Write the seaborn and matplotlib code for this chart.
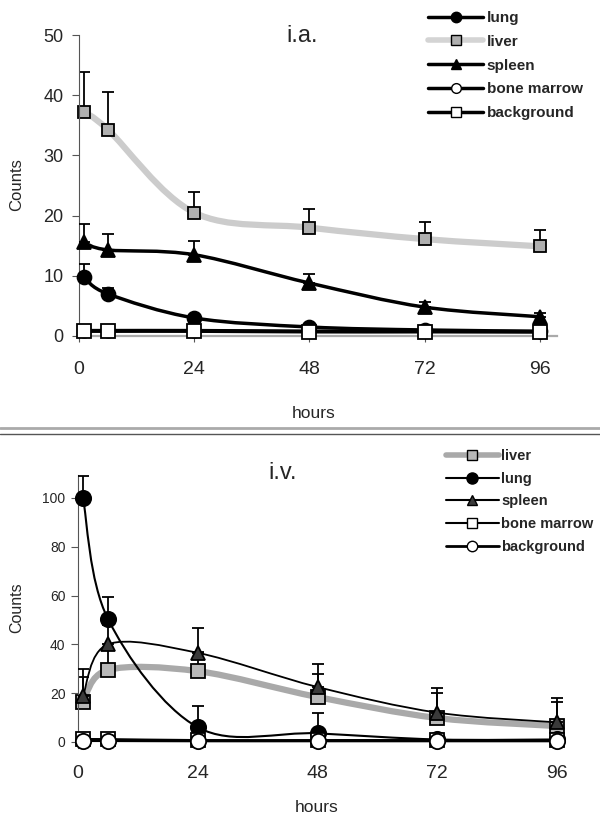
import numpy as np
import matplotlib.pyplot as plt
import seaborn as sns
from matplotlib.path import Path
from matplotlib.patches import PathPatch
from matplotlib.lines import Line2D

# time points (hours) and axis ticks
hours = [1, 6, 24, 48, 72, 96]
xticks = [0, 24, 48, 72, 96]

# i.a. panel: means and upper error (SD)
ia_lung = [9.8, 7.0, 3.0, 1.5, 1.0, 0.8]
ia_lung_sd = [2.1, 1.0, 0.3, 0.3, 0.2, 0.2]
ia_liver = [37.2, 34.3, 20.5, 18.0, 16.1, 14.9]
ia_liver_sd = [6.6, 6.2, 3.5, 3.1, 2.9, 2.7]
ia_spleen = [15.6, 14.3, 13.5, 8.8, 4.8, 3.2]
ia_spleen_sd = [3.0, 2.7, 2.3, 1.5, 0.9, 0.6]
ia_marrow = [0.9, 0.9, 0.9, 0.8, 0.8, 0.7]
ia_marrow_sd = [0.2, 0.2, 0.2, 0.2, 0.2, 0.2]
ia_backgr = [0.8, 0.8, 0.8, 0.7, 0.7, 0.7]
ia_backgr_sd = [0.2, 0.2, 0.2, 0.2, 0.2, 0.2]

# i.v. panel
iv_liver = [16.5, 29.5, 29.0, 18.4, 9.8, 6.5]
iv_liver_sd = [10.2, 8.0, 8.0, 9.6, 10.2, 9.9]
iv_lung = [100.0, 50.4, 6.0, 3.5, 1.0, 1.0]
iv_lung_sd = [9.0, 8.8, 8.9, 8.5, 0.5, 0.5]
iv_spleen = [19.0, 40.0, 36.5, 22.5, 12.0, 8.0]
iv_spleen_sd = [11.0, 8.0, 10.2, 9.5, 10.0, 10.0]
iv_marrow = [1.0, 1.0, 0.6, 0.6, 0.6, 0.6]
iv_marrow_sd = [0.3, 0.3, 0.3, 0.3, 0.3, 0.3]
iv_backgr = [0.5, 0.5, 0.4, 0.4, 0.4, 0.4]
iv_backgr_sd = [0.2, 0.2, 0.2, 0.2, 0.2, 0.2]

sns.set_style("white")
plt.rcParams["font.family"] = ["Liberation Sans", "DejaVu Sans"]


def smooth_path(x, y):
    # Excel-style smoothed line: cubic Bezier segments through the data points
    P = np.column_stack([x, y]).astype(float)
    E = np.vstack([P[0], P, P[-1]])
    verts = [P[0]]
    codes = [Path.MOVETO]
    for i in range(len(P) - 1):
        p0, p1, p2, p3 = E[i], E[i + 1], E[i + 2], E[i + 3]
        verts += [p1 + (p2 - p0) / 6, p2 - (p3 - p1) / 6, p2]
        codes += [Path.CURVE4] * 3
    return Path(verts, codes)


def draw_series(ax, y, sd, lcolor, lw, marker, face, ms, z):
    ax.add_patch(PathPatch(smooth_path(hours, y), fill=False, edgecolor=lcolor,
                           lw=lw, zorder=z, capstyle="round"))
    ax.errorbar(hours, y, yerr=[np.zeros(len(sd)), sd], fmt="none", ecolor="black",
                elinewidth=1.3, capsize=4, capthick=1.3, zorder=z + 0.1)
    ax.plot(hours, y, linestyle="none", marker=marker, mfc=face, mec="black",
            ms=ms, mew=1.3, zorder=z + 0.2, clip_on=False)


fig = plt.figure(figsize=(6, 8.25), dpi=100)
W, H = 600, 825

# ---------- i.a. ----------
ax1 = fig.add_axes([79 / W, 1 - 336 / H, (557 - 79) / W, (336 - 35) / H])
draw_series(ax1, ia_liver, ia_liver_sd, "#cccccc", 4.5, "s", "#b0b0b0", 9, 2)
draw_series(ax1, ia_spleen, ia_spleen_sd, "black", 2.5, "^", "black", 9.5, 3)
draw_series(ax1, ia_lung, ia_lung_sd, "black", 2.5, "o", "black", 10, 4)
draw_series(ax1, ia_marrow, ia_marrow_sd, "black", 2.5, "o", "white", 9, 5)
draw_series(ax1, ia_backgr, ia_backgr_sd, "black", 2.5, "s", "white", 9.5, 6)
ax1.set_xlim(0, 99.6)
ax1.set_ylim(0, 50)
ax1.set_xticks(xticks)
ax1.set_yticks([0, 10, 20, 30, 40, 50])
sns.despine(ax=ax1)
ax1.spines["left"].set_color("#555555")
ax1.spines["bottom"].set_color("#aaaaaa")
ax1.spines["bottom"].set_linewidth(1.6)
ax1.tick_params(axis="y", direction="out", length=5, color="#555555", labelsize=13, pad=6, left=True)
ax1.tick_params(axis="x", direction="out", length=4, color="#555555", labelsize=14, pad=14, bottom=True)

fig.text(302 / W, 1 - 36 / H, "i.a.", fontsize=17, ha="center", va="center")
fig.text(17 / W, 1 - 185 / H, "Counts", fontsize=12, rotation=90, ha="center", va="center")
fig.text(314 / W, 1 - 413 / H, "hours", fontsize=12.5, ha="center", va="center")

h1 = [
    Line2D([], [], color="black", lw=2.5, marker="o", mfc="black", mec="black", ms=7.5),
    Line2D([], [], color="#d4d4d4", lw=4, marker="s", mfc="#b0b0b0", mec="black", ms=7),
    Line2D([], [], color="black", lw=2.5, marker="^", mfc="black", mec="black", ms=7),
    Line2D([], [], color="black", lw=2.5, marker="o", mfc="white", mec="black", ms=7),
    Line2D([], [], color="black", lw=2.5, marker="s", mfc="white", mec="black", ms=7),
]
fig.legend(h1, ["lung", "liver", "spleen", "bone marrow", "background"],
           loc="upper left", bbox_to_anchor=(428 / W, 1 - 11 / H), frameon=False,
           prop=dict(weight="bold", size=11), handlelength=3.6, handletextpad=0.25,
           labelspacing=0.64, borderpad=0, borderaxespad=0)

# separator
fig.add_artist(Line2D([0, 1], [1 - 428 / H] * 2, color="#aaaaaa", lw=2, transform=fig.transFigure))
fig.add_artist(Line2D([0, 1], [1 - 434 / H] * 2, color="#555555", lw=1, transform=fig.transFigure))

# ---------- i.v. ----------
ax2 = fig.add_axes([78 / W, 1 - 748 / H, 499 / W, (748 - 475) / H])
draw_series(ax2, iv_liver, iv_liver_sd, "#a9a9a9", 4.5, "s", "#b8b8b8", 10, 2)
draw_series(ax2, iv_spleen, iv_spleen_sd, "black", 1.3, "^", "#3a3a3a", 10.5, 3)
draw_series(ax2, iv_lung, iv_lung_sd, "black", 1.5, "o", "black", 11, 4)
draw_series(ax2, iv_marrow, iv_marrow_sd, "black", 2.0, "s", "white", 10, 5)
draw_series(ax2, iv_backgr, iv_backgr_sd, "black", 2.0, "o", "white", 11, 6)
ax2.set_xlim(0, 100)
ax2.set_ylim(-2.5, 109.4)
ax2.set_xticks(xticks)
ax2.set_yticks([0, 20, 40, 60, 80, 100])
sns.despine(ax=ax2, bottom=True)
ax2.spines["left"].set_color("#555555")
ax2.tick_params(axis="y", direction="out", length=5, color="#555555", labelsize=10, pad=4, left=True)
ax2.tick_params(axis="x", length=0, labelsize=14, pad=12)

fig.text(283 / W, 1 - 473 / H, "i.v.", fontsize=17, ha="center", va="center")
fig.text(17 / W, 1 - 608 / H, "Counts", fontsize=11.5, rotation=90, ha="center", va="center")
fig.text(317 / W, 1 - 807 / H, "hours", fontsize=12.5, ha="center", va="center")

h2 = [
    Line2D([], [], color="#a9a9a9", lw=4, marker="s", mfc="#b8b8b8", mec="black", ms=7.5),
    Line2D([], [], color="black", lw=1.5, marker="o", mfc="black", mec="black", ms=8),
    Line2D([], [], color="black", lw=1.5, marker="^", mfc="#3a3a3a", mec="black", ms=7.5),
    Line2D([], [], color="black", lw=1.5, marker="s", mfc="white", mec="black", ms=7.5),
    Line2D([], [], color="black", lw=2, marker="o", mfc="white", mec="black", ms=7.5),
]
fig.legend(h2, ["liver", "lung", "spleen", "bone marrow", "background"],
           loc="upper left", bbox_to_anchor=(446 / W, 1 - 449 / H), frameon=False,
           prop=dict(weight="bold", size=10.5), handlelength=3.6, handletextpad=0.2,
           labelspacing=0.6, borderpad=0, borderaxespad=0)

fig.savefig("out.png", dpi=100)
